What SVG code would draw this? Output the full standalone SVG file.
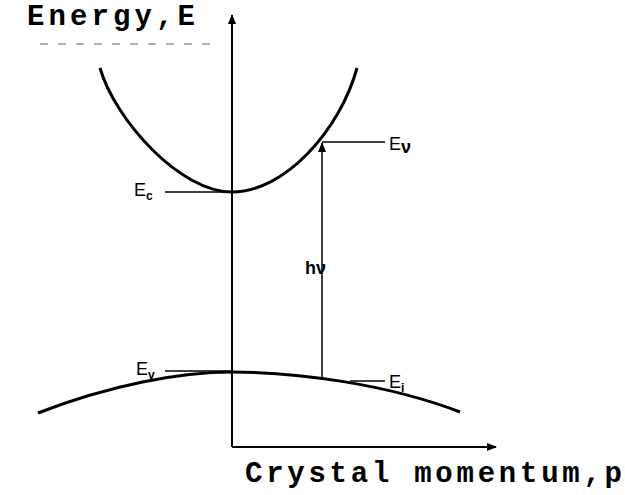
<svg xmlns="http://www.w3.org/2000/svg" width="625" height="495" viewBox="0 0 625 495">
<style>
.ax{stroke:#000;stroke-width:2;fill:none}
.cv{stroke:#000;stroke-width:3;fill:none}
.tk{stroke:#000;stroke-width:1.5;fill:none}
.big{font-family:"Liberation Mono",monospace;font-size:29px;font-weight:bold;fill:#000}
.lb{font-family:"Liberation Sans",sans-serif;font-size:18px;fill:#000}
.sb{font-family:"Liberation Sans",sans-serif;font-size:12px;font-weight:bold;fill:#000}
</style>
<defs>
<marker id="ah" markerWidth="10" markerHeight="8" refX="9" refY="4" orient="auto" markerUnits="userSpaceOnUse">
<path d="M0,0 L10,4 L0,8 Z" fill="#000"/>
</marker>
</defs>
<g id="axes" class="connectors">
<line class="ax" x1="232" y1="447" x2="232" y2="15" marker-end="url(#ah)"/>
<line class="ax" x1="232" y1="447" x2="496" y2="447" marker-end="url(#ah)"/>
<line x1="40" y1="44" x2="212" y2="44" stroke="#999" stroke-width="1.5" stroke-dasharray="8,10"/>
</g>
<g id="conduction-band">
<path class="cv" d="M100,68 C115,120 180,192 232,192 C285,192 340,130 357,68"/>
</g>
<g id="valence-band">
<path class="cv" d="M38,413 C110,385 180,372 232,372 C300,372 390,385 460,412"/>
</g>
<g id="transition">
<line class="tk" x1="322" y1="378" x2="322" y2="143" marker-end="url(#ah)"/>
</g>
<g id="ticks">
<line class="tk" x1="165" y1="192" x2="232" y2="192"/>
<line class="tk" x1="165" y1="371" x2="232" y2="371"/>
<line class="tk" x1="322" y1="142" x2="385" y2="142"/>
<line class="tk" x1="350" y1="381" x2="385" y2="381"/>
</g>
<g id="labels">
<text class="big" x="27" y="25" textLength="168" lengthAdjust="spacing">Energy,E</text>
<text class="big" x="245" y="482" font-size="28" textLength="377" lengthAdjust="spacing">Crystal momentum,p</text>
<text class="lb" x="134" y="196">E<tspan class="sb" dy="4">c</tspan></text>
<text class="lb" x="136" y="375">E<tspan class="sb" dy="4">v</tspan></text>
<text class="lb" x="389" y="150">E<tspan dy="3" font-weight="bold">ν</tspan></text>
<text class="lb" x="389" y="388">E<tspan class="sb" dy="4">i</tspan></text>
<text class="lb" x="305" y="274" font-size="22" font-weight="bold">hν</text>
</g>
</svg>
